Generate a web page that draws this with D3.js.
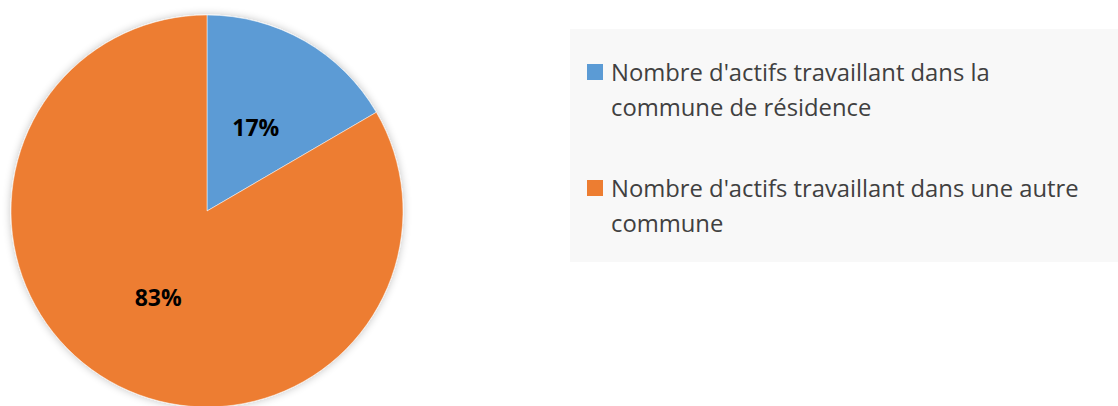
<!DOCTYPE html>
<html>
<head>
<meta charset="utf-8">
<script src="https://cdn.jsdelivr.net/npm/d3@7"></script>
<style>
	body { margin:0; background:#fff; }
	svg { display:block; }
</style>
</head>
<body>
<svg id="chart" width="1118" height="406"></svg>
<script>
// data
var categories = [
	["Nombre d'actifs travaillant dans la", "commune de résidence"],
	["Nombre d'actifs travaillant dans une autre", "commune"]
];
var values = [16.6, 83.4];
var colors = ["#5b9bd5", "#ed7d31"];

var svg = d3.select('#chart');
var cx = 207, cy = 211, r = 196;

// soft shadow round the pie
var defs = svg.append('defs');
var f = defs.append('filter').attr('id', 'shadow')
	.attr('x', '-10%').attr('y', '-10%').attr('width', '120%').attr('height', '120%');
f.append('feGaussianBlur').attr('in', 'SourceAlpha').attr('stdDeviation', 4).attr('result', 'b');
f.append('feComponentTransfer').attr('in', 'b').attr('result', 's')
	.append('feFuncA').attr('type', 'linear').attr('slope', 0.25);
var m = f.append('feMerge');
m.append('feMergeNode').attr('in', 's');
m.append('feMergeNode').attr('in', 'SourceGraphic');

var total = d3.sum(values);
var pie = d3.pie().sort(null).value(function(d){ return d; });
var arc = d3.arc().innerRadius(0).outerRadius(r);
var labelArc = d3.arc().innerRadius(r * 0.5).outerRadius(r * 0.5);

var g = svg.append('g').attr('transform', 'translate(' + cx + ',' + cy + ')');
var arcs = pie(values);

g.append('g').attr('filter', 'url(#shadow)')
	.selectAll('path')
	.data(arcs)
	.enter()
	.append('path')
	.attr('d', arc)
	.attr('fill', function(d, i){ return colors[i]; })
	.attr('stroke', '#fff')
	.attr('stroke-width', 0.5);

g.selectAll('text.pct')
	.data(arcs)
	.enter()
	.append('text')
	.attr('class', 'pct')
	.attr('transform', function(d){ return 'translate(' + labelArc.centroid(d) + ')'; })
	.attr('text-anchor', 'middle')
	.attr('dy', '0.42em')
	.style('font-family', "'Open Sans', sans-serif")
	.style('font-weight', 'bold')
	.style('font-size', '23px')
	.attr('fill', '#000')
	.text(function(d){ return d3.format('.0%')(d.value / total); });

// legend
var lg = svg.append('g');
lg.append('rect')
	.attr('x', 570).attr('y', 29)
	.attr('width', 548).attr('height', 233)
	.attr('fill', '#f8f8f8');

var item = lg.selectAll('g.item')
	.data(categories)
	.enter()
	.append('g')
	.attr('class', 'item')
	.attr('transform', function(d, i){ return 'translate(587,' + (64 + i * 116) + ')'; });

item.append('rect')
	.attr('width', 16).attr('height', 16)
	.attr('fill', function(d, i){ return colors[i]; });

item.append('text')
	.attr('x', 24).attr('y', 17)
	.style('font-family', "'Open Sans', sans-serif")
	.style('font-size', '23.8px')
	.attr('fill', '#404040')
	.selectAll('tspan')
	.data(function(d){ return d; })
	.enter()
	.append('tspan')
	.attr('x', 24)
	.attr('dy', function(d, i){ return i ? 34.5 : 0; })
	.text(function(d){ return d; });
</script>
</body>
</html>
